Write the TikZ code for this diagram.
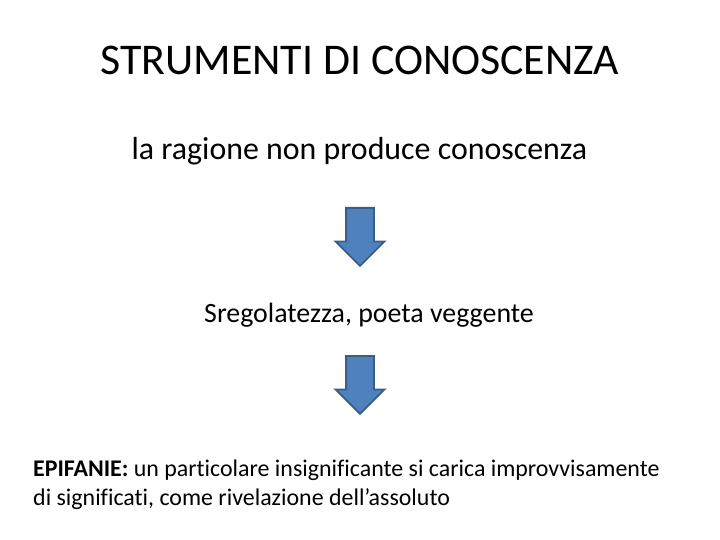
\documentclass[tikz,border=0pt]{standalone}
\usepackage{fontspec}
\setmainfont[Ligatures=NoCommon]{Carlito}
\usetikzlibrary{shapes.arrows}
\definecolor{arrowfill}{HTML}{4F81BD}
\definecolor{arrowline}{HTML}{385D8A}

\begin{document}
\begin{tikzpicture}[x=1bp, y=-1bp,
    txt/.style = {inner sep=0pt, anchor=base},
    down/.style = {shape=single arrow, shape border rotate=270, draw=arrowline, fill=arrowfill,
                   line width=1.8bp, minimum height=58bp, minimum width=47bp,
                   single arrow head extend=10.5bp, inner sep=13bp, anchor=tail}]
    \useasboundingbox (0, 0) rectangle (720, 540);

    \node[txt] (title) at (360, 75) {\fontsize{44}{53}\selectfont STRUMENTI DI CONOSCENZA};
    \node[txt] (ragione) at (359.5, 160) {\fontsize{32}{38}\selectfont la ragione non produce conoscenza};
    \node[txt] (poeta) at (369, 322.7) {\fontsize{28}{34}\selectfont Sregolatezza, poeta veggente};

    \node[txt, anchor=base west] (epi1) at (33, 476.7)
        {\fontsize{24}{28}\selectfont \textbf{EPIFANIE:} un particolare insignificante si carica improvvisamente};
    \node[txt, anchor=base west] (epi2) at (33, 505)
        {\fontsize{24}{28}\selectfont di significati, come rivelazione dell’assoluto};

    \node[down] (arrow1) at (360, 207) {};
    \node[down] (arrow2) at (360, 355) {};

\end{tikzpicture}
\end{document}
